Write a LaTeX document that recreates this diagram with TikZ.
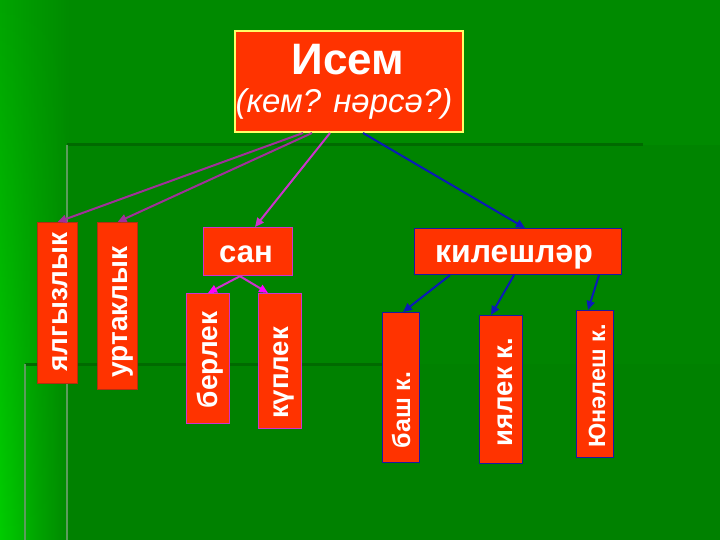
\documentclass[tikz,border=0pt]{standalone}
\usepackage{fontspec}
\setmainfont{Liberation Sans}
\usetikzlibrary{arrows.meta,fadings}
\definecolor{bggreen}{HTML}{008A00}
\definecolor{midgreen}{HTML}{00A400}
\definecolor{brightgreen}{HTML}{00CC00}
\definecolor{darkline}{HTML}{006A00}
\definecolor{greyline}{HTML}{5C9C5C}
\definecolor{boxred}{HTML}{FF3300}
\definecolor{brownedge}{HTML}{B03010}
\definecolor{magedge}{HTML}{CC33CC}
\definecolor{blueedge}{HTML}{1A1AA0}
\definecolor{purplearrow}{HTML}{A0309A}
\definecolor{magarrow}{HTML}{CC33CC}
\definecolor{brightmag}{HTML}{FF00FF}
\definecolor{bluearrow}{HTML}{0A1AB8}
\definecolor{topedge}{HTML}{FFFF66}
\begin{document}
\begin{tikzpicture}[x=1pt,y=-1pt,
  redbox/.style={fill=boxred, inner sep=0pt, anchor=north west, line width=1.2pt},
  vtext/.style={text=white, rotate=90, anchor=base, inner sep=0pt},
  htext/.style={text=white, anchor=base, inner sep=0pt},
  arr/.style={line width=2pt, -{Triangle[length=9pt,width=8pt]}},
  magtip/.style={-{Triangle[length=9pt,width=8pt,color=brightmag]}},
  fs/.style={font=\bfseries\fontsize{#1}{#1}\selectfont}
]
\useasboundingbox (0,0) rectangle (720,540);
% background
\fill[bggreen] (0,0) rectangle (720,540);
\shade[left color=midgreen, right color=bggreen] (0,0) rectangle (70,540);
\shade[left color=brightgreen, right color=bggreen, path fading=north] (0,0) rectangle (70,540);
\fill[black, opacity=0.04] (67,145) rectangle (720,540);
\fill[black, opacity=0.02] (25,364) rectangle (720,540);
\draw[darkline, line width=3pt] (67,145) -- (643,145);
\draw[greyline, line width=1.5pt] (67,145) -- (67,540);
\draw[darkline, line width=3pt] (25,364) -- (382,364);
\draw[greyline, line width=1.5pt] (25,364) -- (25,540);

% top box
\node[redbox, draw=topedge, line width=2pt, minimum width=228pt, minimum height=101pt] (isem) at (234,30) {};
\node[htext, font=\bfseries\fontsize{44pt}{44pt}\selectfont] at (348,75) {Исем};
\node[htext, font=\itshape\fontsize{33pt}{33pt}\selectfont] at (344,113) {(кем? нәрсә?)};

% left boxes
\node[redbox, draw=brownedge, minimum width=40pt, minimum height=161pt] (yal) at (37,222) {};
\node[vtext, fs=28pt] at (67,302) {ялгызлык};
\node[redbox, draw=brownedge, minimum width=40pt, minimum height=167pt] (urt) at (97,222) {};
\node[vtext, fs=28pt] at (127,312) {уртаклык};

% san
\node[redbox, draw=magedge, minimum width=89pt, minimum height=48pt] (san) at (203,227) {};
\node[htext, fs=31pt] at (246,262) {сан};
\node[redbox, draw=magedge, minimum width=43pt, minimum height=130pt] (ber) at (186,293) {};
\node[vtext, fs=28pt] at (217,360) {берлек};
\node[redbox, draw=magedge, minimum width=43pt, minimum height=135pt] (kup) at (258,293) {};
\node[vtext, fs=27.5pt] at (288,373) {күплек};

% kilesh
\node[redbox, draw=blueedge, minimum width=207pt, minimum height=46pt] (kil) at (414,228) {};
\node[htext, fs=32pt] at (514,262) {килешләр};
\node[redbox, draw=blueedge, minimum width=37pt, minimum height=150pt] (bash) at (382,312) {};
\node[vtext, fs=25pt] at (410,410) {баш к.};
\node[redbox, draw=blueedge, minimum width=43pt, minimum height=148pt] (iya) at (479,315) {};
\node[vtext, fs=27.5pt] at (512,392) {иялек к.};
\node[redbox, draw=blueedge, minimum width=37pt, minimum height=147pt] (yun) at (576,310) {};
\node[vtext, fs=23.5pt] at (605,386) {Юнәлеш к.};

% arrows from top
\draw[arr, purplearrow] ([xshift=69pt]isem.south west) -- (yal.north);
\draw[arr, purplearrow] ([xshift=78pt]isem.south west) -- (urt.north);
\draw[arr, magarrow] ([xshift=96pt]isem.south west) -- ([xshift=52pt]san.north west);
\draw[arr, bluearrow] ([xshift=129pt]isem.south west) -- ([xshift=111pt]kil.north west);
% san children
\draw[arr, magarrow, magtip] ([xshift=37pt]san.south west) -- ([xshift=22pt]ber.north west);
\draw[arr, magarrow, magtip] ([xshift=37pt]san.south west) -- ([xshift=10pt]kup.north west);
% kil children
\draw[arr, bluearrow] ([xshift=36pt]kil.south west) -- ([xshift=21pt]bash.north west);
\draw[arr, bluearrow] ([xshift=100pt]kil.south west) -- ([xshift=12pt]iya.north west);
\draw[arr, bluearrow] ([xshift=185pt]kil.south west) -- ([xshift=12pt]yun.north west);
\end{tikzpicture}
\end{document}
